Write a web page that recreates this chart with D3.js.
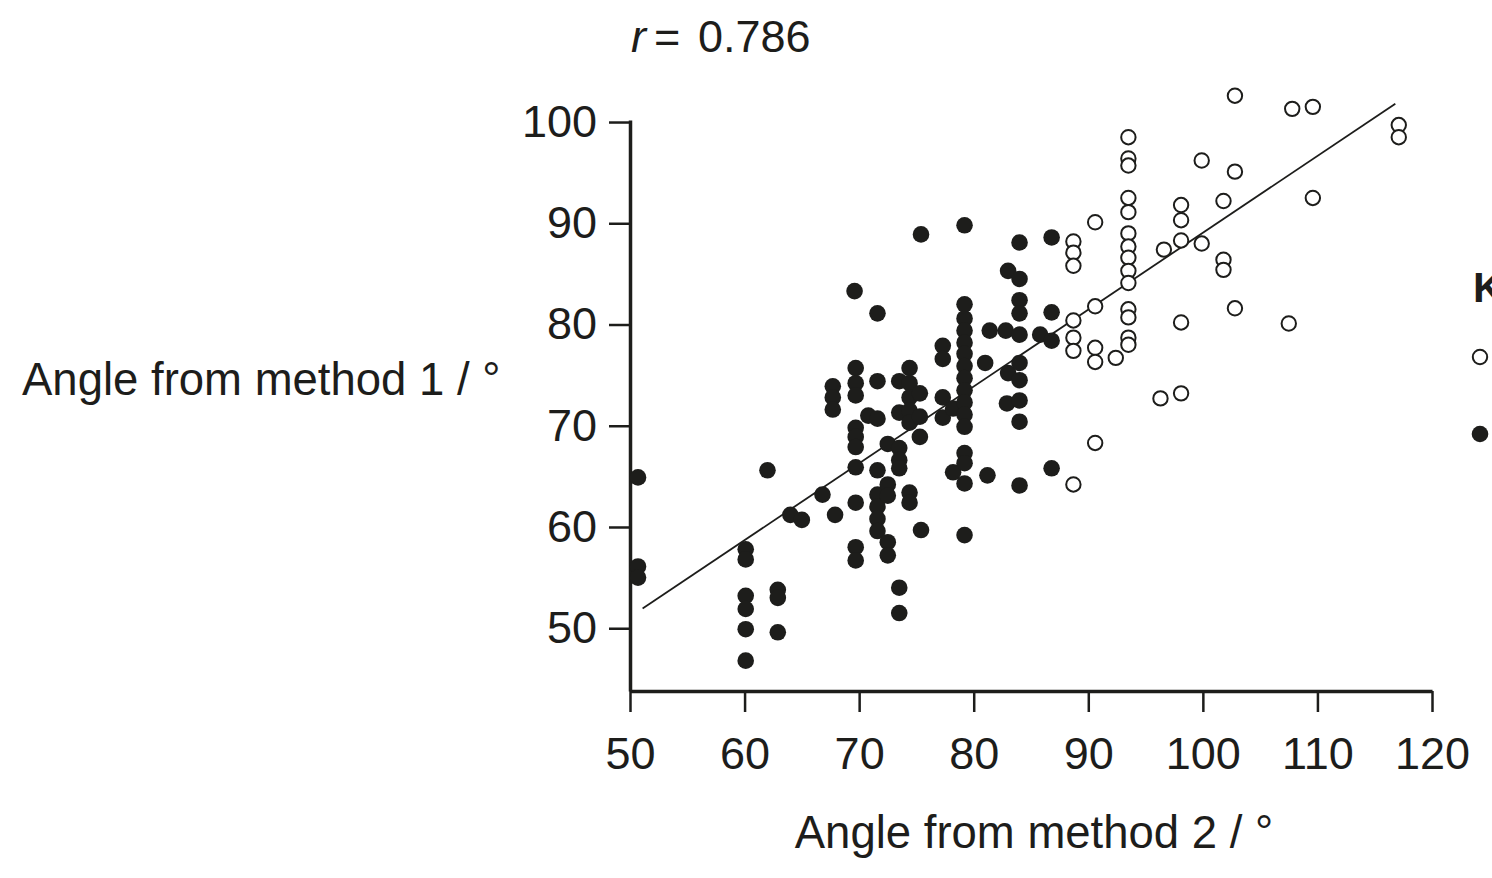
<!DOCTYPE html>
<html>
<head>
<meta charset="utf-8">
<script src="https://cdn.jsdelivr.net/npm/d3@7"></script>
<style>
  body { margin: 0; background: #fff; }
  svg { display: block; font-family: "Liberation Sans", Arial, Helvetica, sans-serif; }
  .axis path, .axis line { stroke: #1d1d1b; }
  .axis text { fill: #1d1d1b; font-size: 45px; font-family: "Liberation Sans", Arial, sans-serif; }
</style>
</head>
<body>
<div class="chart"></div>
<script>
// filled circles: [method 2, method 1]
var filledPts = [
  [50.7,64.9],[50.7,56.1],[50.7,55.0],
  [60.1,57.8],[60.1,56.8],[60.1,53.2],[60.1,51.9],[60.1,49.9],[60.1,46.8],
  [62.0,65.6],[62.9,53.8],[62.9,53.0],[62.9,49.6],
  [64.0,61.2],[65.0,60.7],[66.8,63.2],
  [67.7,73.9],[67.7,72.8],[67.7,71.6],[67.9,61.2],
  [69.6,83.3],[69.7,75.7],[69.7,74.2],[69.7,73.0],[69.7,69.8],[69.7,68.9],[69.7,67.9],[69.7,65.9],[69.7,62.4],[69.7,58.0],[69.7,56.7],
  [70.8,71.0],
  [71.6,81.1],[71.6,74.4],[71.6,70.7],[71.6,65.6],[71.6,63.2],[71.6,62.0],[71.6,60.8],[71.6,59.6],
  [72.5,68.2],[72.5,64.2],[72.5,63.1],[72.5,58.5],[72.5,57.2],
  [73.5,74.4],[73.5,71.3],[73.5,67.8],[73.5,66.6],[73.5,65.8],[73.5,54.0],[73.5,51.5],
  [74.4,75.7],[74.4,74.2],[74.4,72.8],[74.4,71.5],[74.4,70.3],[74.4,63.4],[74.4,62.4],
  [75.3,73.2],[75.3,70.9],[75.3,68.9],[75.4,59.7],[75.4,88.9],
  [77.3,77.9],[77.3,76.6],[77.3,72.8],[77.3,70.8],
  [78.2,71.7],[78.2,65.4],
  [79.2,89.8],[79.2,82.0],[79.2,80.6],[79.2,79.4],[79.2,78.2],[79.2,77.1],[79.2,75.9],[79.2,74.7],[79.2,73.5],[79.2,72.3],[79.2,71.1],[79.2,69.9],[79.2,67.3],[79.2,66.3],[79.2,64.3],[79.2,59.2],
  [81.0,76.2],[81.2,65.1],[81.4,79.4],
  [82.8,79.4],[82.9,72.2],[83.0,75.2],[83.0,85.3],
  [84.0,88.1],[84.0,84.5],[84.0,82.4],[84.0,81.1],[84.0,79.0],[84.0,76.2],[84.0,74.5],[84.0,72.5],[84.0,70.4],[84.0,64.1],
  [85.8,79.0],
  [86.8,88.6],[86.8,81.2],[86.8,78.4],[86.8,65.8]
];

// open circles
var openPts = [
  [88.7,88.2],[88.7,87.1],[88.7,85.8],[88.7,80.4],[88.7,78.7],[88.7,77.4],[88.7,64.2],
  [90.6,90.1],[90.6,81.8],[90.6,77.7],[90.6,76.3],[90.6,68.3],
  [92.4,76.7],
  [93.5,98.5],[93.5,96.4],[93.5,95.7],[93.5,92.5],[93.5,91.1],[93.5,89.0],[93.5,87.7],[93.5,86.6],[93.5,85.3],[93.5,84.1],[93.5,81.5],[93.5,80.7],[93.5,78.7],[93.5,78.0],
  [96.3,72.7],[96.6,87.4],
  [98.1,91.8],[98.1,90.3],[98.1,88.3],[98.1,80.2],[98.1,73.2],
  [99.9,96.2],[99.9,88.0],
  [101.8,92.2],[101.8,86.4],[101.8,85.4],
  [102.8,102.6],[102.8,95.1],[102.8,81.6],
  [107.5,80.1],[107.8,101.3],
  [109.6,101.5],[109.6,92.5],
  [117.1,99.7],[117.1,98.5]
];

// fitted line
var fitSlope = 0.759, fitIntercept = 13.16;
var fitRange = [51.1, 116.8];
var rValue = "0.786";

var xTicks = [50, 60, 70, 80, 90, 100, 110, 120];
var yTicks = [50, 60, 70, 80, 90, 100];

var xLabel = "Angle from method 2 / °";
var yLabel = "Angle from method 1 / °";
var keyTitle = "Key";

var W = 1492, H = 878;
var ink = "#1d1d1b";

var svg = d3.select(".chart").append("svg")
  .attr("width", W)
  .attr("height", H);

var x = d3.scaleLinear().domain([50, 120]).range([630, 1432]);
var y = d3.scaleLinear().domain([43.8, 100.2]).range([691, 120]);

// axes
var xAxis = svg.append("g")
  .attr("class", "axis")
  .attr("transform", "translate(0," + y(43.8) + ")")
  .call(d3.axisBottom(x).tickValues(xTicks).tickSize(21).tickPadding(14).tickSizeOuter(0));

var yAxis = svg.append("g")
  .attr("class", "axis")
  .attr("transform", "translate(" + x(50) + ",0)")
  .call(d3.axisLeft(y).tickValues(yTicks).tickSize(21).tickPadding(12).tickSizeOuter(0));

svg.selectAll(".axis path").attr("stroke-width", 3.5);
svg.selectAll(".axis line").attr("stroke-width", 2.5);
xAxis.selectAll("text").attr("dy", "0.95em");

// regression line
svg.append("line")
  .attr("x1", x(fitRange[0])).attr("y1", y(fitIntercept + fitSlope * fitRange[0]))
  .attr("x2", x(fitRange[1])).attr("y2", y(fitIntercept + fitSlope * fitRange[1]))
  .attr("stroke", ink).attr("stroke-width", 1.8);

svg.append("g").selectAll("circle")
  .data(filledPts).enter().append("circle")
  .attr("cx", function(d){ return x(d[0]); })
  .attr("cy", function(d){ return y(d[1]); })
  .attr("r", 8.3)
  .attr("fill", ink);

svg.append("g").selectAll("circle")
  .data(openPts).enter().append("circle")
  .attr("cx", function(d){ return x(d[0]); })
  .attr("cy", function(d){ return y(d[1]); })
  .attr("r", 7.2)
  .attr("fill", "#fff")
  .attr("stroke", ink)
  .attr("stroke-width", 2);

// r label
var rt = svg.append("text")
  .attr("y", 52)
  .attr("font-size", 45).attr("fill", ink);
rt.append("tspan").attr("x", 631).attr("font-style", "italic").text("r");
rt.append("tspan").attr("x", 654).text("=");
rt.append("tspan").attr("x", 698).text(rValue);

// axis titles
svg.append("text")
  .attr("x", 1034).attr("y", 848)
  .attr("text-anchor", "middle")
  .attr("font-size", 45.5).attr("fill", ink)
  .text(xLabel);

svg.append("text")
  .attr("x", 22).attr("y", 395)
  .attr("font-size", 45.5).attr("fill", ink)
  .text(yLabel);

// key (cut off at the right edge, as in the source)
svg.append("text")
  .attr("x", 1473).attr("y", 302)
  .attr("font-size", 42).attr("font-weight", "bold").attr("fill", ink)
  .text(keyTitle);

svg.append("circle")
  .attr("cx", 1480).attr("cy", 357).attr("r", 7.2)
  .attr("fill", "#fff").attr("stroke", ink).attr("stroke-width", 2);

svg.append("circle")
  .attr("cx", 1480).attr("cy", 434).attr("r", 8.3)
  .attr("fill", ink);
</script>
</body>
</html>
